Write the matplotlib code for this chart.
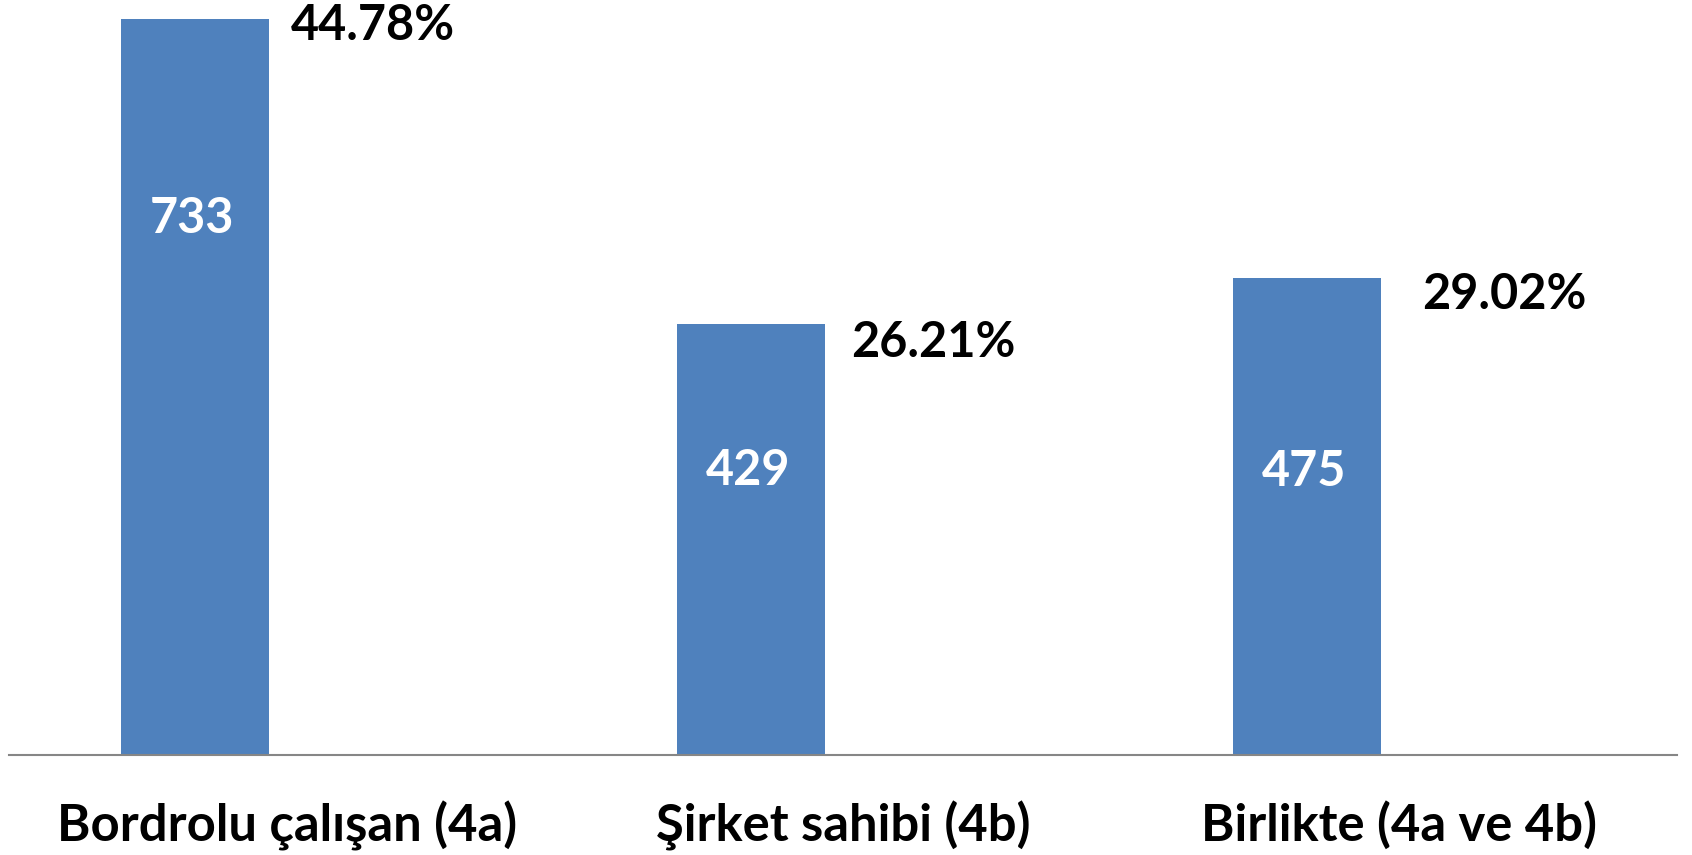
import matplotlib.pyplot as plt

categories = ['Bordrolu çalışan (4a)', 'Şirket sahibi (4b)', 'Birlikte (4a ve 4b)']
counts = [733, 429, 475]
percents = [44.78, 26.21, 29.02]
# where the labels sit (count units / category offsets)
count_label_y = [534, 283, 282]
pct_label_dx = [0.155, 0.163, 0.19]

plt.rcParams['font.family'] = ['Lato', 'DejaVu Sans']

fig = plt.figure(figsize=(16.92, 8.55), dpi=100)
ax = fig.add_axes([9 / 1692, 100 / 855, 1668 / 1692, 755 / 855])

x = list(range(len(categories)))
bar_x = [i - 0.166 for i in x]
ax.bar(bar_x, counts, width=0.266, color='#4F81BD', zorder=2)

ax.set_xlim(-0.5, 2.5)
ax.set_ylim(0, 752)

for bx, c, ly in zip(bar_x, counts, count_label_y):
    ax.text(bx - 0.005, ly, str(c), ha='center', va='center', color='white',
            fontsize=35, fontweight='bold')

# percentages on a secondary scale, like the hidden second series
ax2 = ax.twinx()
ax2.set_ylim(2.05, 46.28)
for i, p, dx in zip(x, percents, pct_label_dx):
    ax2.text(i + dx, p, f'{p:.2f}%', ha='center', va='center', color='black',
             fontsize=35, fontweight='bold')
ax2.axis('off')

for s in ['top', 'left', 'right']:
    ax.spines[s].set_visible(False)
ax.spines['bottom'].set_color('#868686')
ax.spines['bottom'].set_linewidth(1.5)
ax.set_yticks([])
ax.set_xticks(x)
ax.set_xticklabels(categories, fontsize=36.5, fontweight='bold')
ax.tick_params(axis='x', length=0, pad=33)

fig.savefig('out.png', dpi=100)
